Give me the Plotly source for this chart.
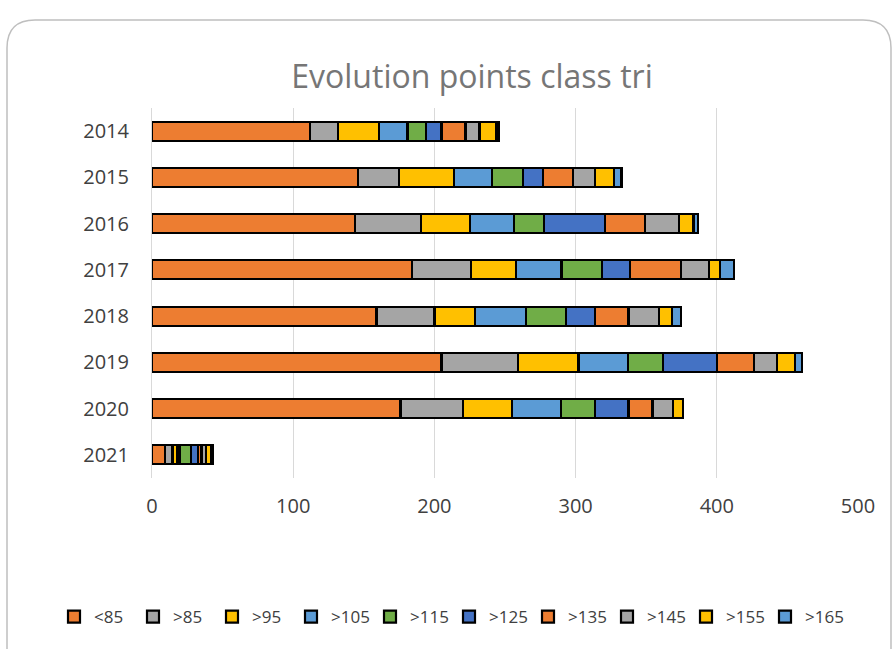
import plotly.graph_objects as go

years = ["2014", "2015", "2016", "2017", "2018", "2019", "2020", "2021"]
series_names = ["<85", ">85", ">95", ">105", ">115", ">125", ">135", ">145", ">155", ">165"]

s_lt85 = [112, 146, 144, 184, 159, 205, 176, 9]
s_gt85 = [20, 29, 46.5, 42, 41, 54, 44.5, 5.5]
s_gt95 = [29, 39, 34.5, 32, 29, 43, 34.5, 3]
s_gt105 = [20, 27, 31.5, 32, 36, 35, 34.5, 2]
s_gt115 = [13, 22, 21, 28.5, 28, 25, 24.5, 8]
s_gt125 = [11, 14, 43.5, 20, 21, 38, 23.5, 5]
s_gt135 = [17, 21, 28, 36, 23.5, 26.5, 17, 2.5]
s_gt145 = [10, 16, 24.5, 20, 21.5, 16, 14.5, 3]
s_gt155 = [12, 13, 10, 8, 9, 12.7, 7.3, 4]
s_gt165 = [2, 5.5, 3.3, 9.5, 6.5, 5, 0, 1]

all_series = [s_lt85, s_gt85, s_gt95, s_gt105, s_gt115, s_gt125,
              s_gt135, s_gt145, s_gt155, s_gt165]
colors = ["#ED7D31", "#A5A5A5", "#FFC000", "#5B9BD5", "#70AD47", "#4472C4",
          "#ED7D31", "#A5A5A5", "#FFC000", "#5B9BD5"]

W, H = 896, 649
L, R, T, B = 152, 38, 108, 171
PW, PH = W - L - R, H - T - B

FONT = "Open Sans, Noto Sans, DejaVu Sans, sans-serif"

fig = go.Figure()
for i, (name, vals, col) in enumerate(zip(series_names, all_series, colors)):
    fig.add_trace(go.Bar(
        y=years, x=vals, name=name, orientation="h",
        legend="legend" if i < 5 else "legend2",
        marker=dict(color=col, line=dict(color="#000000", width=2.2)),
    ))

def P(px, py):
    a, b = (px - L) / PW, (H - B - py) / PH
    return f"{a:.5f},{b:.5f}"

# rounded frame
x0, y0, x1, y1, rad = 7, 20, 891, 670, 28
path = (f"M {P(x0, y1)} L {P(x0, y0 + rad)} "
        f"Q {P(x0, y0)} {P(x0 + rad, y0)} "
        f"L {P(x1 - rad, y0)} Q {P(x1, y0)} {P(x1, y0 + rad)} "
        f"L {P(x1, y1)}")
fig.add_shape(type="path", path=path, xref="paper", yref="paper",
              line=dict(color="#BFBFBF", width=1.5), layer="below")

leg_common = dict(orientation="h", xref="container", xanchor="left",
                  y=(H - B - 617) / PH, yref="paper", yanchor="middle",
                  font=dict(size=17, color="#404040"), traceorder="normal",
                  itemwidth=30, entrywidth=34, entrywidthmode="pixels")

fig.update_layout(
    width=W, height=H,
    margin=dict(l=L, r=R, t=T, b=B, autoexpand=False),
    barmode="stack", bargap=0.59,
    paper_bgcolor="white", plot_bgcolor="white",
    font=dict(family=FONT, color="#404040"),
    title=dict(text="Evolution points class tri", x=472 / W, xref="container",
               y=1 - 77 / H, yref="container", yanchor="middle", xanchor="center",
               font=dict(size=32, color="#767676", family=FONT)),
    xaxis=dict(range=[0, 500], dtick=100, showgrid=True, gridcolor="#D9D9D9",
               gridwidth=1, zeroline=False, showline=False, automargin=False,
               tickfont=dict(size=20, color="#404040"), ticklabelstandoff=14,
               fixedrange=True),
    yaxis=dict(autorange="reversed", showgrid=False, showline=True,
               linecolor="#D9D9D9", linewidth=1, automargin=False,
               tickfont=dict(size=20, color="#404040"), ticklabelstandoff=18,
               fixedrange=True),
    legend=dict(x=54 / W, **leg_common),
    legend2=dict(x=(54 + 5 * 79) / W, **leg_common),
    showlegend=True,
)

fig.write_html("out.html", config={"displayModeBar": False},
               post_script="document.body.style.margin='0';document.body.style.overflow='hidden';")
